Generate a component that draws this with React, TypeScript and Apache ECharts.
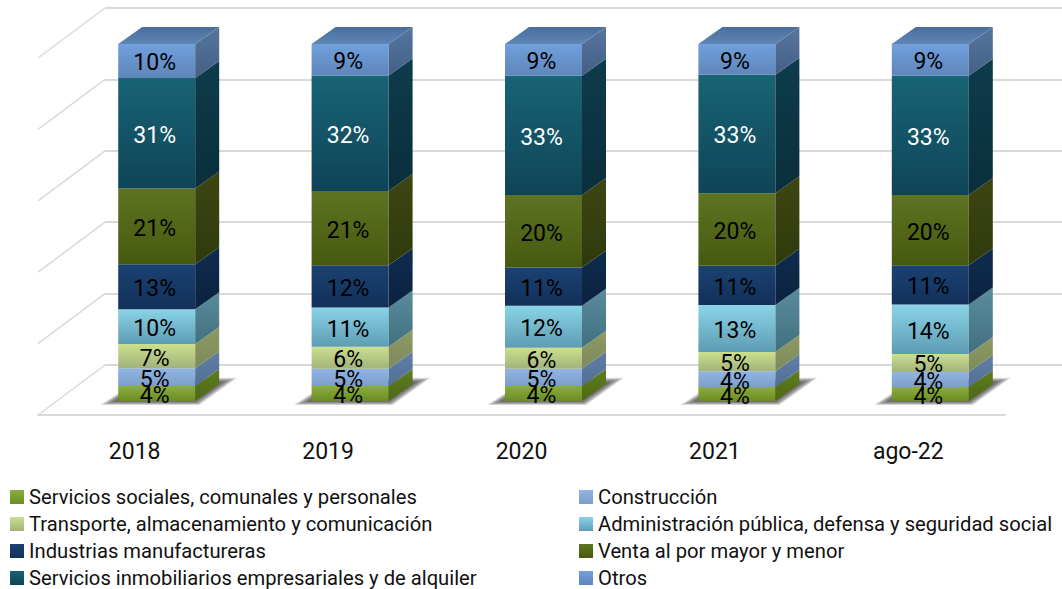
import React, { useEffect, useRef } from "react";
import * as echarts from "echarts";

const categories = ["2018", "2019", "2020", "2021", "ago-22"];
const names = [
  "Servicios sociales, comunales y personales",
  "Construcción",
  "Transporte, almacenamiento y comunicación",
  "Administración pública, defensa y seguridad social",
  "Industrias manufactureras",
  "Venta al por mayor y menor",
  "Servicios inmobiliarios empresariales y de alquiler",
  "Otros",
];
const sociales = [4.2, 4.2, 4.2, 3.9, 3.9];
const construccion = [5.0, 4.8, 4.8, 4.4, 4.2];
const transporte = [6.8, 6.2, 5.9, 5.4, 5.1];
const administracion = [9.7, 11.0, 11.8, 13.2, 13.8];
const industrias = [12.6, 11.8, 10.7, 11.0, 11.0];
const venta = [21.2, 20.8, 20.3, 20.3, 19.7];
const inmobiliarios = [31.0, 32.4, 33.4, 33.2, 33.4];
const otros = [9.5, 8.8, 8.9, 8.6, 8.9];
const values = [sociales, construccion, transporte, administracion, industrias, venta, inmobiliarios, otros];
const wallTicks = [0, 20, 40, 60, 80, 100];

const frontTop = ["#8aae3c", "#92b4e4", "#cbe08c", "#8ad4e8", "#1b4272", "#5e7322", "#186474", "#71a0dc"];
const frontBottom = ["#6c8c24", "#7c9ec8", "#a2b27c", "#5e9cb2", "#12305a", "#47590f", "#0f4458", "#5e86ba"];
const sideTop = ["#5f7e1e", "#5f7ea6", "#8f9a64", "#5a8c9e", "#0f2c4e", "#3d4612", "#0e3c4c", "#56769e"];
const sideBottom = ["#4c6814", "#536f96", "#7c8a5a", "#41707f", "#0b2240", "#2f3a0c", "#0a2e3c", "#445f86"];
const labelColors = ["#000", "#000", "#000", "#000", "#000", "#000", "#fff", "#000"];
const shadowLayers = [0, 2, 4, 6, 8, 10, 12, 14];

const grad = (a: string, b: string) => new echarts.graphic.LinearGradient(0, 0, 0, 1, [
  { offset: 0, color: a },
  { offset: 1, color: b },
]);

const barDx = 22;
const barDy = -14;
const barW = 77;
const depthX = 24;
const depthY = -17;
const font = "Roboto";

export default function App() {
  const ref = useRef<HTMLDivElement>(null);
  useEffect(() => {
    const chart = echarts.init(ref.current!, undefined, { renderer: "svg" });
    const segmentSeries = names.map((name, si) => {
      const data = categories.map((_, ci) => {
        let start = 0;
        for (let k = 0; k < si; k++) start += values[k][ci];
        return [ci, start, start + values[si][ci]];
      });
      return {
        type: "custom",
        name,
        xAxisIndex: 0,
        yAxisIndex: 0,
        z: 5,
        itemStyle: { color: grad(frontTop[si], frontBottom[si]) },
        data,
        renderItem: (_: any, api: any) => {
          const c = api.value(0);
          const a = api.coord([c, api.value(1)]);
          const b = api.coord([c, api.value(2)]);
          const x0 = a[0] + barDx - barW / 2;
          const x1 = x0 + barW;
          const y0 = a[1] + barDy;
          const y1 = b[1] + barDy;
          const children: any[] = [
            { type: "rect", shape: { x: x0, y: y1, width: barW, height: y0 - y1 }, style: { fill: grad(frontTop[si], frontBottom[si]) } },
            {
              type: "polygon",
              shape: { points: [[x1, y0], [x1, y1], [x1 + depthX, y1 + depthY], [x1 + depthX, y0 + depthY]] },
              style: { fill: grad(sideTop[si], sideBottom[si]) },
            },
          ];
          if (si === names.length - 1) {
            children.push({
              type: "polygon",
              shape: { points: [[x0, y1], [x1, y1], [x1 + depthX, y1 + depthY], [x0 + depthX, y1 + depthY]] },
              style: { fill: grad("#4a6f9f", "#5f85b4") },
            });
          }
          children.push({
            type: "text",
            z2: 50,
            style: {
              text: Math.round(values[si][c]) + "%",
              x: x0 + barW / 2 - 2,
              y: (y0 + y1) / 2 + 2,
              align: "center",
              verticalAlign: "middle",
              fill: labelColors[si],
              fontSize: 23,
              fontFamily: font,
            },
          });
          return { type: "group", children };
        },
      };
    });
    const wallSeries = {
      type: "custom",
      name: "wall",
      xAxisIndex: 0,
      yAxisIndex: 0,
      silent: true,
      z: 1,
      data: wallTicks.map((t) => [0, t]),
      renderItem: (params: any, api: any) => {
        const y = api.coord([0, api.value(1)])[1];
        const x = params.coordSys.x;
        return {
          type: "line",
          shape: { x1: x, y1: y, x2: x + 67, y2: y - 50 },
          style: { stroke: "#d9d9d9", lineWidth: 1.5 },
        };
      },
    };
    const shadowSeries = {
      type: "custom",
      name: "shadow",
      xAxisIndex: 0,
      yAxisIndex: 0,
      silent: true,
      z: 2,
      data: categories.map((_, ci) => [ci, 0]),
      renderItem: (_: any, api: any) => {
        const a = api.coord([api.value(0), 0]);
        const x0 = a[0] + barDx - barW / 2;
        const x1 = x0 + barW;
        const y0 = a[1] + barDy;
        return {
          type: "group",
          children: shadowLayers.map((e) => ({
            type: "polygon",
            shape: {
              points: [
                [x0 - 4 - e, y0 + 0.5 + e * 0.25],
                [x1 + e * 0.3, y0 + 0.5 + e * 0.25],
                [x1 + depthX + 4 + e, y0 + depthY - 2 - e * 0.3],
                [x0 + depthX, y0 + depthY - 2 - e * 0.3],
              ],
            },
            style: { fill: "rgba(50,50,50,0.14)" },
          })),
        };
      },
    };
    const legendBase = {
      orient: "vertical" as const,
      icon: "rect",
      height: 108,
      itemWidth: 14,
      itemHeight: 14,
      itemGap: 7,
      selectedMode: false,
      textStyle: { fontFamily: font, fontSize: 20.2, color: "#111" },
    };
    chart.setOption({
      animation: false,
      backgroundColor: "#fff",
      grid: [
        { left: 38, width: 967, top: 58, height: 357, containLabel: false },
        { left: 105, right: 0, top: 8, height: 357, containLabel: false },
      ],
      xAxis: [
        {
          type: "category",
          gridIndex: 0,
          data: categories,
          axisLine: { show: true, lineStyle: { color: "#d9d9d9", width: 2 } },
          axisTick: { show: false },
          axisLabel: { color: "#111", fontSize: 23, fontFamily: font, margin: 25 },
        },
        { type: "category", gridIndex: 1, data: categories, show: false },
      ],
      yAxis: [
        { type: "value", gridIndex: 0, min: 0, max: 100, interval: 20, show: false, splitLine: { show: false } },
        {
          type: "value",
          gridIndex: 1,
          min: 0,
          max: 100,
          interval: 20,
          axisLabel: { show: false },
          axisLine: { show: false },
          axisTick: { show: false },
          splitLine: { show: true, lineStyle: { color: "#d9d9d9", width: 2 } },
        },
      ],
      legend: [
        { ...legendBase, left: 5, top: 482, data: [names[0], names[2], names[4], names[6]] },
        { ...legendBase, left: 574, top: 482, data: [names[1], names[3], names[5], names[7]] },
      ],
      series: [wallSeries, shadowSeries, ...segmentSeries],
    });
    return () => chart.dispose();
  }, []);
  return <div ref={ref} style={{ position: "absolute", left: 0, top: 0, width: 1062, height: 589 }} />;
}
